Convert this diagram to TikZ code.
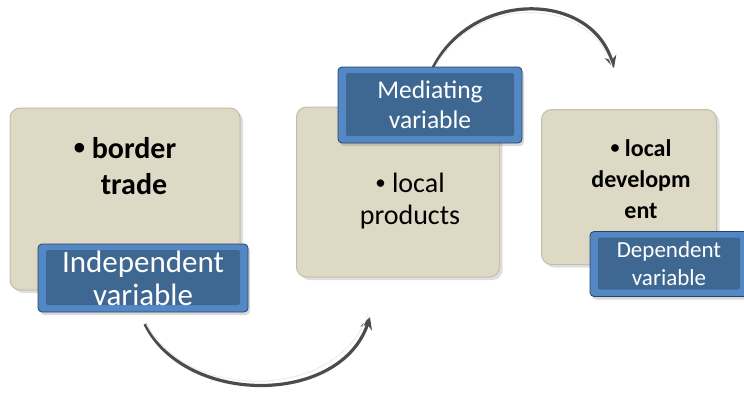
\documentclass[tikz,border=0pt]{standalone}
\usepackage{fontspec}
\setmainfont{Carlito}
\usetikzlibrary{arrows.meta, positioning, shadows}

\definecolor{boxfill}{RGB}{221,217,196}
\definecolor{boxline}{RGB}{196,190,168}
\definecolor{labelout}{RGB}{84,136,196}
\definecolor{labelin}{RGB}{62,104,146}
\definecolor{labelline}{RGB}{38,68,104}

\newcommand{\dotitem}{\raisebox{0.12em}{\scalebox{0.75}{\textbullet}}\ }

\begin{document}
\begin{tikzpicture}[
		x=1pt, y=-1pt,
		itembox/.style={draw=boxline, fill=boxfill, rounded corners=10pt, line width=1pt,
			drop shadow={opacity=0.25, shadow xshift=3pt, shadow yshift=-3pt}},
		itemtext/.style={align=center, text=black},
		varlabel/.style={draw=labelline, fill=labelout, rounded corners=4pt, line width=0.8pt,
			text=white, align=center, inner sep=0pt,
			drop shadow={opacity=0.3, shadow xshift=2pt, shadow yshift=-3pt},
			path picture={\fill[labelin, rounded corners=2pt]
				([shift={(8pt,-6pt)}]path picture bounding box.north west) rectangle
				([shift={(-8pt,7pt)}]path picture bounding box.south east);}},
		flow/.style={draw=gray!60!black, line width=3.2pt, -{Stealth[length=12pt, width=12pt]}},
		flowshine/.style={draw=white!85!gray, line width=1pt}
	]
	\useasboundingbox (0,0) rectangle (744,392);

		% Boxes
		\node[itembox, minimum width=230pt, minimum height=182pt] (trade) at (125,199) {};
		\node[itembox, minimum width=203pt, minimum height=170pt] (products) at (398,192) {};
		\node[itembox, minimum width=175pt, minimum height=155pt] (develop) at (629,187) {};

		\node[itemtext, font=\fontsize{30}{36}\selectfont\bfseries] (tradetxt)
			at ([yshift=33pt]trade.center) {\dotitem border\\ \hspace{0.6em}trade};
		\node[itemtext, font=\fontsize{28}{32}\selectfont] (productstxt)
			at ([shift={(12pt,-9pt)}]products.center) {\dotitem local\\ products};
		\node[itemtext, font=\fontsize{24}{31}\selectfont\bfseries] (developtxt)
			at ([shift={(12pt,8pt)}]develop.center) {\dotitem local\\ developm\\ ent};

		% Arrows
		\coordinate (s1) at (145,324);
		\coordinate (e1) at (370,317);
		\coordinate (s2) at (432,70);
		\coordinate (e2) at (614,68);
		\draw[flow] (s1) .. controls (185,406) and (340,406) .. (e1);
		\draw[flowshine] ([xshift=1.5pt]s1) .. controls (187,402) and (338,402) .. ([shift={(-2pt,3pt)}]e1);
		\draw[flow] (s2) .. controls (470,-10) and (590,-10) .. (e2);
		\draw[flowshine] ([xshift=1.5pt]s2) .. controls (472,-6) and (588,-6) .. ([shift={(-2pt,2pt)}]e2);

		% Labels
		\node[varlabel, minimum width=210pt, minimum height=68pt, font=\fontsize{31}{33}\selectfont]
			(indep) at (143,278) {Independent\\ variable};
		\node[varlabel, minimum width=184pt, minimum height=76pt, font=\fontsize{25.5}{30}\selectfont]
			(mediat) at (430,105) {Mediating\\ variable};
		\node[varlabel, minimum width=158pt, minimum height=65pt, font=\fontsize{23}{28}\selectfont]
			(depend) at (669,264) {Dependent\\ variable};

\end{tikzpicture}
\end{document}
